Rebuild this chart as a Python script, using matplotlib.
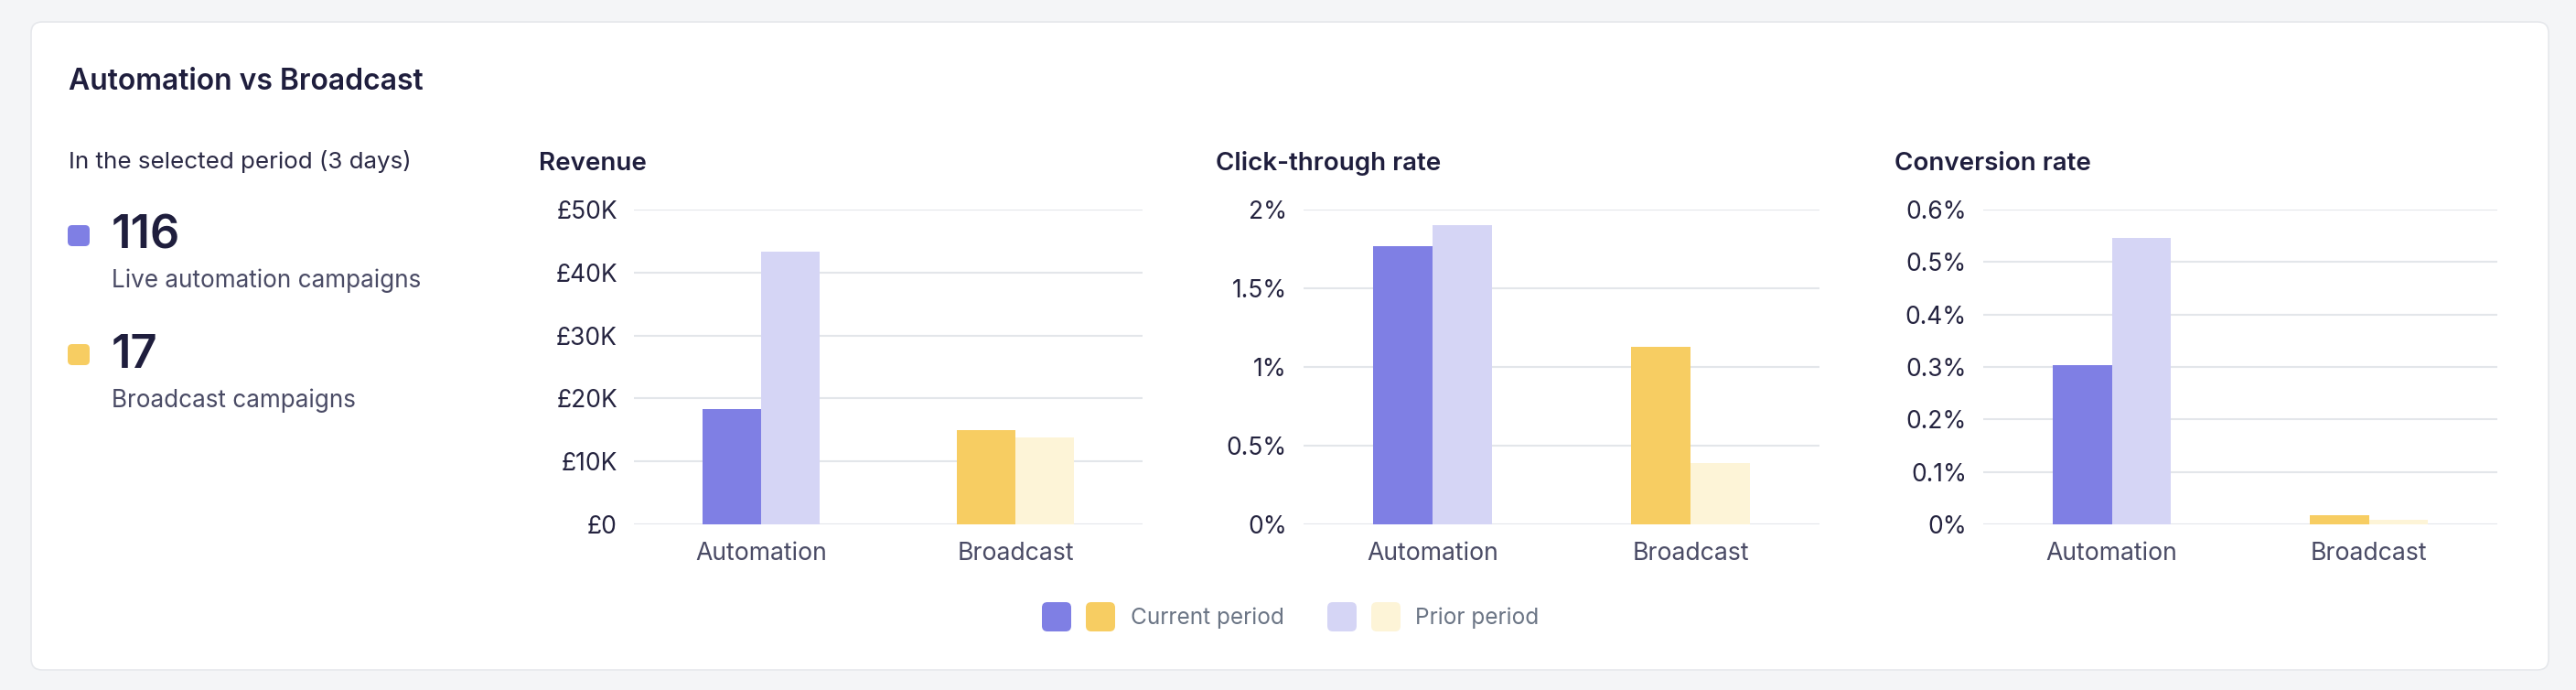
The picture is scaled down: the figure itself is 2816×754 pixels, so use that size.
import matplotlib
matplotlib.use("Agg")
import matplotlib.pyplot as plt
from matplotlib.patches import FancyBboxPatch
from matplotlib.ticker import FuncFormatter

# ---------------- data ----------------
categories = ["Automation", "Broadcast"]
revenue_current = [18300, 15000]
revenue_prior = [43300, 13800]
ctr_current = [1.77, 1.13]
ctr_prior = [1.90, 0.39]
conv_current = [0.303, 0.017]
conv_prior = [0.546, 0.009]

revenue_ticks = [0, 10000, 20000, 30000, 40000, 50000]
ctr_ticks = [0, 0.5, 1, 1.5, 2]
conv_ticks = [0, 0.1, 0.2, 0.3, 0.4, 0.5, 0.6]

panel_titles = ["Revenue", "Click-through rate", "Conversion rate"]
legend_labels = ["Current period", "Prior period"]
live_automation = 116
broadcast_campaigns = 17

# ---------------- style ----------------
plt.rcParams['font.family'] = ['Inter', 'DejaVu Sans']
W, H = 2816, 754
DPI = 100
PURPLE = "#7f7fe4"
PURPLE_L = "#d5d5f5"
YELLOW = "#f7cd62"
YELLOW_L = "#fdf4d7"
current_colors = [PURPLE, YELLOW]
prior_colors = [PURPLE_L, YELLOW_L]
NAVY = "#1f1e3d"
GREY = "#4a4b65"
LEG_GREY = "#6b7585"
GRID = "#e3e6ea"

fig = plt.figure(figsize=(W / DPI, H / DPI), dpi=DPI)
fig.patch.set_facecolor("#f4f5f7")

bg = fig.add_axes([0, 0, 1, 1])
bg.set_xlim(0, W)
bg.set_ylim(H, 0)
bg.axis("off")
bg.set_zorder(0)

card = FancyBboxPatch((34, 24), 2786 - 34, 732 - 24,
                      boxstyle="round,pad=0,rounding_size=12",
                      facecolor="white", edgecolor="#e6e8ec", linewidth=1.2)
bg.add_patch(card)

bg.text(75, 98, "Automation vs Broadcast", fontsize=23, fontweight="semibold",
        color=NAVY, va="baseline", ha="left")
bg.text(75, 184, "In the selected period (3 days)", fontsize=18.7, color="#2b2a45",
        va="baseline", ha="left")

def rsquare(x0, y0, w, h, color, r=5):
    bg.add_patch(FancyBboxPatch((x0, y0), w, h,
                                boxstyle=f"round,pad=0,rounding_size={r}",
                                facecolor=color, edgecolor="none"))

rsquare(74, 246, 24, 23, PURPLE)
bg.text(122, 272, str(live_automation), fontsize=36.5, fontweight="semibold",
        color=NAVY, va="baseline")
bg.text(122, 314, "Live automation campaigns", fontsize=18.8, color=GREY, va="baseline")
rsquare(74, 376, 24, 23, YELLOW)
bg.text(122, 402, str(broadcast_campaigns), fontsize=36.5, fontweight="semibold",
        color=NAVY, va="baseline")
bg.text(122, 445, "Broadcast campaigns", fontsize=18.8, color=GREY, va="baseline")

# legend
rsquare(1139, 658, 32, 32, PURPLE, r=6)
rsquare(1187, 658, 32, 32, YELLOW, r=6)
bg.text(1236, 682, legend_labels[0], fontsize=17.6, color=LEG_GREY, va="baseline")
rsquare(1451, 658, 32, 32, PURPLE_L, r=6)
rsquare(1499, 658, 32, 32, YELLOW_L, r=6)
bg.text(1547, 682, legend_labels[1], fontsize=17.6, color=LEG_GREY, va="baseline")

# ---------------- panels ----------------
def fmt_gbp(v, pos):
    return "£0" if v == 0 else f"£{int(round(v / 1000))}K"

def fmt_pct(v, pos):
    s = f"{v:.1f}".rstrip("0").rstrip(".")
    return f"{s}%"

panels = [
    (589, 693, 1249, revenue_current, revenue_prior, revenue_ticks, fmt_gbp),
    (1329, 1425, 1989, ctr_current, ctr_prior, ctr_ticks, fmt_pct),
    (2071, 2168, 2730, conv_current, conv_prior, conv_ticks, fmt_pct),
]
Y_TOP, Y_BOT = 229, 573
BW = 0.23

for title, (tx, x0, x1, cur, pri, ticks, fmt) in zip(panel_titles, panels):
    bg.text(tx, 186, title, fontsize=20, fontweight="semibold", color=NAVY,
            va="baseline", ha="left")
    ax = fig.add_axes([x0 / W, 1 - Y_BOT / H, (x1 - x0) / W, (Y_BOT - Y_TOP) / H])
    ax.set_zorder(2)
    ax.patch.set_alpha(0)
    xs = list(range(len(categories)))
    ax.bar([x - BW / 2 for x in xs], cur, width=BW, color=current_colors, zorder=3)
    ax.bar([x + BW / 2 for x in xs], pri, width=BW, color=prior_colors, zorder=3)
    ax.set_xlim(-0.5, len(categories) - 0.5)
    ax.set_ylim(ticks[0], ticks[-1])
    ax.set_yticks(ticks)
    ax.yaxis.set_major_formatter(FuncFormatter(fmt))
    ax.set_xticks(xs)
    ax.set_xticklabels(categories)
    ax.yaxis.grid(True, color=GRID, linewidth=1.5, zorder=0)
    ax.set_axisbelow(True)
    for s in ax.spines.values():
        s.set_visible(False)
    ax.tick_params(axis="y", length=0, pad=13, labelsize=19, labelcolor="#24233f")
    ax.tick_params(axis="x", length=0, pad=14, labelsize=19.2, labelcolor=GREY)
    for lbl in ax.get_xticklabels():
        lbl.set_clip_on(False)

fig.savefig("out.png", dpi=DPI, facecolor=fig.get_facecolor())
